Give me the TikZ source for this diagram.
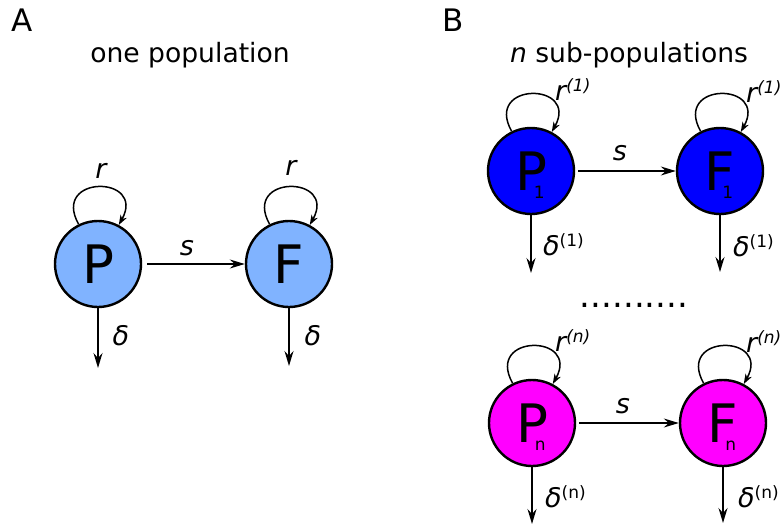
\documentclass[tikz,border=0pt]{standalone}
\usepackage{fontspec}
\setmainfont{DejaVu Sans}
\usetikzlibrary{arrows.meta, positioning}
\definecolor{popblue}{HTML}{80B3FF}
\definecolor{subblue}{HTML}{0000FF}
\definecolor{submag}{HTML}{FF00FF}
\newcommand{\fsz}[1]{\fontsize{#1}{#1}\selectfont}
\newcommand{\supsc}[1]{\raisebox{9pt}{\fsz{17}#1}}
\newcommand{\popsub}[2]{#1\rlap{\kern-13pt\smash{\raisebox{-8pt}{\fsz{17}#2}}}}

\begin{document}
\begin{tikzpicture}[x=1pt, y=-1pt, >={Stealth[length=15pt,width=9pt,inset=5pt]},
  pop/.style={circle, draw=black, line width=2.4pt, minimum size=86pt, inner sep=0pt, font=\fsz{53}},
  flow/.style={->, line width=1.6pt},
  selfloop/.style={-{Stealth[length=10pt,width=7pt,inset=3pt]}, line width=1.5pt},
  lbl/.style={font=\fsz{27}\itshape, inner sep=0pt},
  head/.style={font=\fsz{26.6}, inner sep=0pt, anchor=base}]

\useasboundingbox (0,0) rectangle (781,527);

% Panel titles
\node[head, anchor=base west, font=\fsz{31}] (titA) at (11,32) {A};
\node[head, anchor=base west, font=\fsz{31}] (titB) at (442,32) {B};
\node[head] (subA) at (190,63) {one population};
\node[head] (subB) at (629,63) {{\itshape n} sub-populations};

% Panel A: one population
\node[pop, fill=popblue] (PA) at (98,264) {P};
\node[pop, fill=popblue] (FA) at (289,264) {F};

% Panel B: sub-populations
\node[pop, fill=subblue] (P1) at (531,171) {\popsub{P}{1}};
\node[pop, fill=subblue] (F1) at (720,171) {\popsub{F}{1}};
\node[pop, fill=submag] (Pn) at (532,423) {\popsub{P}{n}};
\node[pop, fill=submag] (Fn) at (723,423) {\popsub{F}{n}};
\node[font=\fsz{34}, inner sep=0pt, anchor=base] (dots) at (634,307) {..........};

% Self loops (r)
\foreach \n in {PA,FA,P1,F1,Pn,Fn}
  \draw[selfloop] (\n.116) .. controls +(-28,-50) and +(28,-50) .. (\n.62);

% Transitions (s)
\draw[flow, shorten <=5pt] (PA) -- (FA);
\draw[flow, shorten <=3pt] (P1) -- (F1);
\draw[flow, shorten <=3pt] (Pn) -- (Fn);

% Death (delta)
\coordinate (PA-end) at (98,368);
\coordinate (FA-end) at (289,366);
\coordinate (P1-end) at (531,273);
\coordinate (F1-end) at (720,272);
\coordinate (Pn-end) at (532,524);
\coordinate (Fn-end) at (723,523);
\foreach \n in {PA,FA,P1,F1,Pn,Fn}
  \draw[flow] (\n) -- (\n-end);

% Labels
\node[lbl] (rPA) at (101,171) {r};
\node[lbl] (rFA) at (291,168) {r};
\node[lbl] (sA) at (187,248) {s};
\node[lbl] (dPA) at (121,336) {δ};
\node[lbl] (dFA) at (313,336) {δ};

\node[lbl, anchor=base west] (rP1) at (555,100) {r\supsc{(1)}};
\node[lbl, anchor=base west] (rF1) at (746,102) {r\supsc{(1)}};
\node[lbl] (sB1) at (620,153) {s};
\node[lbl, anchor=base west] (dP1) at (543,255) {δ\supsc{\upshape(1)}};
\node[lbl, anchor=base west] (dF1) at (733,256) {δ\supsc{\upshape(1)}};

\node[lbl, anchor=base west] (rPn) at (555,351) {r\supsc{(n)}};
\node[lbl, anchor=base west] (rFn) at (746,352) {r\supsc{(n)}};
\node[lbl] (sBn) at (623,406) {s};
\node[lbl, anchor=base west] (dPn) at (545,507) {δ\supsc{\upshape(n)}};
\node[lbl, anchor=base west] (dFn) at (738,507) {δ\supsc{\upshape(n)}};

\end{tikzpicture}
\end{document}
